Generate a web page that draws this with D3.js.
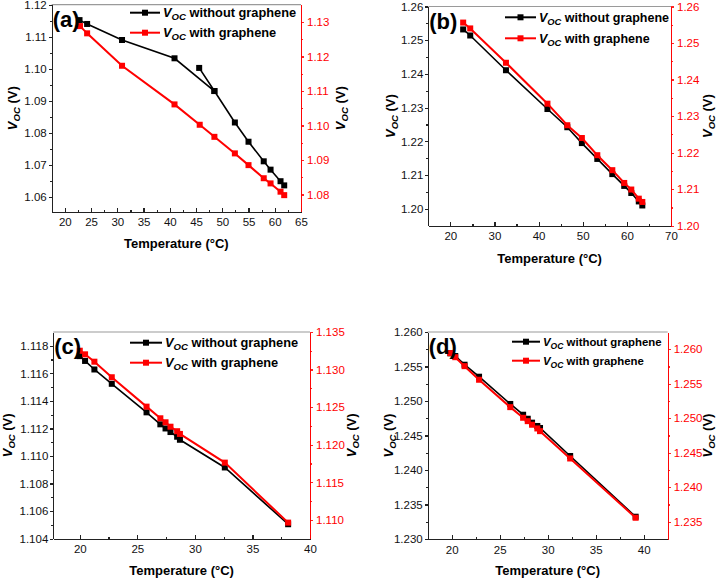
<!DOCTYPE html>
<meta charset="utf-8">
<style>
body { margin: 0; background: #fff; }
svg { font-family: Arial, "Liberation Sans", sans-serif; }
.axis path, .axis line { shape-rendering: crispEdges; }
</style>
<body>
<script src="https://d3js.org/d3.v7.min.js"></script>
<script>
// ---- data ----
// (a) black series is drawn out to the 45.6 point and back, as in the original
var tempA_without = [22.8, 24.25, 30.9, 40.9, 48.5, 45.6, 48.5, 52.4, 55.0, 57.9, 59.2, 61.1, 61.8];
var vocA_without = [1.1152, 1.1140, 1.1090, 1.1033, 1.0931, 1.1003, 1.0931, 1.0833, 1.0773, 1.0712, 1.0686, 1.0650, 1.0637];
var tempA_with = [22.9, 24.25, 30.9, 40.9, 45.7, 48.5, 52.4, 55.0, 57.9, 59.2, 61.1, 61.8];
var vocA_with = [1.1288, 1.1267, 1.1173, 1.1061, 1.1002, 1.0967, 1.0919, 1.0885, 1.0847, 1.0832, 1.0808, 1.0798];

var tempB = [22.9, 24.5, 32.6, 42.0, 46.5, 49.8, 53.3, 56.7, 59.4, 61.0, 62.7, 63.5];
var vocB_without = [1.2532, 1.2514, 1.2411, 1.2296, 1.2242, 1.2195, 1.2148, 1.2103, 1.2068, 1.2047, 1.2022, 1.2010];
var vocB_with = [1.2556, 1.2540, 1.2446, 1.2334, 1.2275, 1.2240, 1.2193, 1.2152, 1.2117, 1.2099, 1.2074, 1.2065];

var tempC = [20.0, 20.46, 21.27, 22.78, 25.8, 27.0, 27.45, 27.88, 28.46, 28.7, 32.6, 38.1];
var vocC_without = [1.11725, 1.1169, 1.11628, 1.11524, 1.11317, 1.1123, 1.1120, 1.11174, 1.1114, 1.11118, 1.10917, 1.10505];
var vocC_with = [1.13251, 1.13203, 1.13105, 1.12898, 1.12507, 1.12352, 1.12299, 1.1224, 1.1218, 1.12144, 1.11762, 1.10964];

var tempD = [19.86, 20.37, 21.34, 22.85, 26.1, 27.44, 27.92, 28.37, 28.92, 29.2, 32.34, 39.16];
var vocD_without = [1.25691, 1.25652, 1.25526, 1.25352, 1.24957, 1.24801, 1.24743, 1.24686, 1.24638, 1.24609, 1.24203, 1.23323];
var vocD_with = [1.25944, 1.25885, 1.25755, 1.25558, 1.25161, 1.25007, 1.24958, 1.24906, 1.24852, 1.24813, 1.24417, 1.23558];

// tick labels
var xTicksA = [20, 25, 30, 35, 40, 45, 50, 55, 60, 65];
var yTicksA = [1.06, 1.07, 1.08, 1.09, 1.10, 1.11, 1.12];
var y2TicksA = [1.08, 1.09, 1.10, 1.11, 1.12, 1.13];
var xTicksB = [20, 30, 40, 50, 60, 70];
var yTicksB = [1.20, 1.21, 1.22, 1.23, 1.24, 1.25, 1.26];
var y2TicksB = [1.20, 1.21, 1.22, 1.23, 1.24, 1.25, 1.26];
var xTicksC = [20, 25, 30, 35, 40];
var yTicksC = [1.104, 1.106, 1.108, 1.110, 1.112, 1.114, 1.116, 1.118];
var y2TicksC = [1.110, 1.115, 1.120, 1.125, 1.130, 1.135];
var xTicksD = [20, 25, 30, 35, 40];
var yTicksD = [1.230, 1.235, 1.240, 1.245, 1.250, 1.255, 1.260];
var y2TicksD = [1.235, 1.240, 1.245, 1.250, 1.255, 1.260];

var width = 717, height = 578;
var red = "#ff0000";

var svg = d3.select("body").append("svg")
  .attr("width", width)
  .attr("height", height);

var panels = [
  { label: "(a)", l: 51.7, r: 301, t: 4.7, b: 211.7,
    xd: [17.5, 65], yd: [1.0555, 1.12], y2d: [1.075, 1.135],
    xt: xTicksA, yt: yTicksA, y2t: y2TicksA, fmt: ".2f",
    black: [tempA_without, vocA_without], red: [tempA_with, vocA_with],
    leg: [130, 12.7, 32.7, 30, 12.8], yl: 12, yr: 340, xtitle: 248 },
  { label: "(b)", l: 428.3, r: 671, t: 6.5, b: 225.7,
    xd: [15, 70], yd: [1.195, 1.26], y2d: [1.20, 1.26],
    xt: xTicksB, yt: yTicksB, y2t: y2TicksB, fmt: ".2f",
    black: [tempB, vocB_without], red: [tempB, vocB_with],
    leg: [505, 17.3, 38.3, 31, 12.5], yl: 390, yr: 707, xtitle: 263 },
  { label: "(c)", l: 53.3, r: 310, t: 332, b: 538.7,
    xd: [17.7, 40], yd: [1.104, 1.119], y2d: [1.1075, 1.135],
    xt: xTicksC, yt: yTicksC, y2t: y2TicksC, fmt: ".3f",
    black: [tempC, vocC_without], red: [tempC, vocC_with],
    leg: [130, 342.7, 362.7, 32, 12.8], yl: 7, yr: 351, xtitle: 575 },
  { label: "(d)", l: 427.7, r: 667.7, t: 332, b: 539,
    xd: [17.5, 42.5], yd: [1.23, 1.26], y2d: [1.2325, 1.2625],
    xt: xTicksD, yt: yTicksD, y2t: y2TicksD, fmt: ".3f",
    black: [tempD, vocD_without], red: [tempD, vocD_with],
    leg: [512, 341.7, 360.7, 28, 11.4], yl: 388, yr: 707, xtitle: 575 }
];

function midpoints(arr) {
  var m = [];
  for (var i = 0; i < arr.length - 1; i++) m.push((arr[i] + arr[i + 1]) / 2);
  return m;
}

function vocLabel(sel, size, subSize) {
  sel.append("tspan").attr("font-style", "italic").text("V");
  sel.append("tspan").attr("font-style", "italic").attr("font-size", subSize).attr("dy", size * 0.25).text("OC");
  return sel;
}

panels.forEach(function(p) {
  var x = d3.scaleLinear().domain(p.xd).range([p.l, p.r]);
  var y = d3.scaleLinear().domain(p.yd).range([p.b, p.t]);
  var y2 = d3.scaleLinear().domain(p.y2d).range([p.b, p.t]);
  var f = d3.format(p.fmt);

  // top frame
  svg.append("line")
    .attr("x1", p.l).attr("x2", p.r).attr("y1", p.t).attr("y2", p.t)
    .attr("stroke", "#9a9a9a").attr("stroke-width", 1.2);

  // x axis, ticks inward
  svg.append("g").attr("class", "axis")
    .attr("transform", "translate(0," + p.b + ")")
    .call(d3.axisBottom(x).tickValues(p.xt).tickSize(-4).tickSizeOuter(0).tickPadding(6.5)
      .tickFormat(d3.format("d")));
  svg.append("g").attr("class", "axis")
    .attr("transform", "translate(0," + p.b + ")")
    .call(d3.axisBottom(x).tickValues(midpoints(p.xt)).tickSize(-2).tickSizeOuter(0).tickFormat(""));

  // left axis
  svg.append("g").attr("class", "axis")
    .attr("transform", "translate(" + p.l + ",0)")
    .call(d3.axisLeft(y).tickValues(p.yt).tickSize(3).tickSizeOuter(0).tickPadding(2).tickFormat(f));
  svg.append("g").attr("class", "axis")
    .attr("transform", "translate(" + p.l + ",0)")
    .call(d3.axisLeft(y).tickValues(midpoints(p.yt)).tickSize(2).tickSizeOuter(0).tickFormat(""));

  // right axis (red)
  svg.append("g").attr("class", "axis right")
    .attr("transform", "translate(" + p.r + ",0)")
    .call(d3.axisRight(y2).tickValues(p.y2t).tickSize(3).tickSizeOuter(0).tickPadding(3).tickFormat(f));
  svg.append("g").attr("class", "axis right")
    .attr("transform", "translate(" + p.r + ",0)")
    .call(d3.axisRight(y2).tickValues(midpoints(p.y2t)).tickSize(2).tickSizeOuter(0).tickFormat(""));

  svg.selectAll(".axis text").attr("font-size", 11.5).attr("font-family", "Arial, 'Liberation Sans', sans-serif").attr("fill", "#111");
  svg.selectAll(".axis path, .axis line").attr("stroke", "#222").attr("stroke-width", 1.2);
  svg.selectAll(".axis.right path, .axis.right line").attr("stroke", red).attr("stroke-opacity", 0.85);
  svg.selectAll(".axis.right text").attr("fill", red);

  // series
  var series = [[p.black, "#000", 1.6], [p.red, red, 2]];
  series.forEach(function(s, k) {
    var ys = k === 0 ? y : y2;
    var pts = s[0][0].map(function(t, i) { return [t, s[0][1][i]]; });
    var line = d3.line().x(function(d) { return x(d[0]); }).y(function(d) { return ys(d[1]); });
    svg.append("path").datum(pts)
      .attr("fill", "none").attr("stroke", s[1]).attr("stroke-width", s[2])
      .attr("d", line);
    svg.append("g").selectAll("rect").data(pts).enter().append("rect")
      .attr("x", function(d) { return x(d[0]) - 3; })
      .attr("y", function(d) { return ys(d[1]) - 3; })
      .attr("width", 6).attr("height", 6)
      .attr("fill", s[1]);
  });

  // panel label
  svg.append("text")
    .attr("x", p.l + 1).attr("y", p.t + 22)
    .attr("font-size", 22).attr("font-weight", "bold")
    .text(p.label);

  // legend
  var lx = p.leg[0], llen = p.leg[3], fs = p.leg[4];
  [["#000", p.leg[1], " without graphene"], [red, p.leg[2], " with graphene"]].forEach(function(e) {
    svg.append("line").attr("x1", lx).attr("x2", lx + llen).attr("y1", e[1]).attr("y2", e[1])
      .attr("stroke", e[0]).attr("stroke-width", 2);
    svg.append("rect").attr("x", lx + llen / 2 - 3).attr("y", e[1] - 3).attr("width", 6).attr("height", 6).attr("fill", e[0]);
    var t = svg.append("text").attr("x", lx + llen + 3).attr("y", e[1] + 4.5)
      .attr("font-size", fs).attr("font-weight", "bold");
    vocLabel(t, fs, fs * 0.75);
    t.append("tspan").attr("dy", -fs * 0.25).text(e[2]);
  });

  // axis titles
  svg.append("text")
    .attr("x", (p.l + p.r) / 2).attr("y", p.xtitle)
    .attr("text-anchor", "middle").attr("font-size", 13).attr("font-weight", "bold")
    .text("Temperature (\u00b0C)");

  [p.yl, p.yr].forEach(function(cx) {
    var t = svg.append("text")
      .attr("transform", "translate(" + (cx + 4.5) + "," + ((p.t + p.b) / 2) + ") rotate(-90)")
      .attr("text-anchor", "middle").attr("font-size", 13).attr("font-weight", "bold");
    vocLabel(t, 13, 9.5);
    t.append("tspan").attr("dy", -13 * 0.25).text(" (V)");
  });
});
</script>
</body>
